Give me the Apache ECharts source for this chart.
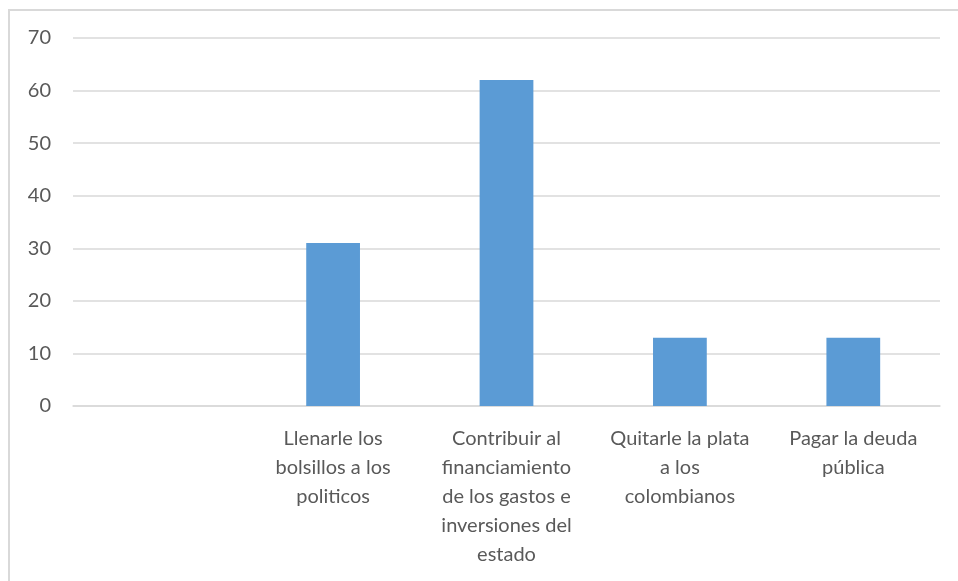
<!DOCTYPE html>
<html>
<head>
<meta charset="utf-8">
<script src="https://cdn.jsdelivr.net/npm/echarts@6/dist/echarts.min.js"></script>
<style>
  html, body { margin: 0; padding: 0; background: #fff; }
  #frame { position: absolute; left: 8px; top: 9px; width: 960px; height: 600px; border: 2px solid #d9d9d9; box-sizing: border-box; }
  #chart { position: absolute; left: 0; top: 0; width: 958px; height: 581px; }
</style>
</head>
<body>
<div id="frame"></div>
<div id="chart"></div>
<script>
// categorias (la primera va vacia, como en el original)
const categories = [
  '',
  'Llenarle los\nbolsillos a los\npoliticos',
  'Contribuir al\nfinanciamiento\nde los gastos e\ninversiones del\nestado',
  'Quitarle la plata\na los\ncolombianos',
  'Pagar la deuda\npública'
];
const values = [null, 31, 62, 13, 13];
const yTicks = { min: 0, max: 70, interval: 10 };

const chart = echarts.init(document.getElementById('chart'));
chart.setOption({
  animation: false,
  grid: { left: 73, right: 18, top: 38, bottom: 175, containLabel: false },
  xAxis: {
    type: 'category',
    data: categories,
    axisLine: { lineStyle: { color: '#d9d9d9', width: 1.5 } },
    axisTick: { show: false },
    axisLabel: {
      interval: 0,
      color: '#595959',
      fontFamily: 'Lato',
      fontSize: 20,
      lineHeight: 29,
      margin: 18
    }
  },
  yAxis: {
    type: 'value',
    min: yTicks.min,
    max: yTicks.max,
    interval: yTicks.interval,
    axisLine: { show: false },
    axisTick: { show: false },
    splitLine: { lineStyle: { color: '#d9d9d9', width: 1.5 } },
    axisLabel: {
      color: '#595959',
      fontFamily: 'Lato',
      fontSize: 20,
      margin: 22
    }
  },
  series: [{
    type: 'bar',
    data: values,
    barWidth: '31%',
    itemStyle: { color: '#5b9bd5' }
  }]
});
</script>
</body>
</html>
